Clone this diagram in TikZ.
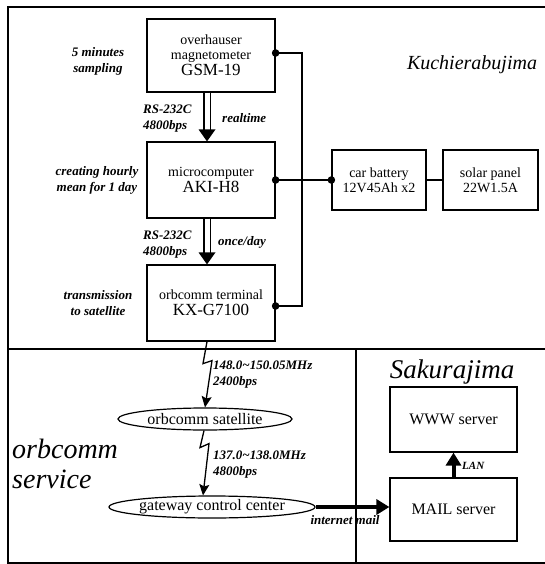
\documentclass[tikz,border=0pt]{standalone}
\usepackage{fontspec}
\setmainfont{Liberation Serif}
\usetikzlibrary{arrows.meta,shapes.geometric,calc}
\begin{document}
\begin{tikzpicture}[x=1pt,y=-1pt,
  box/.style={draw,line width=1.2pt,align=center,inner sep=0pt,font=\fontsize{14}{15}\selectfont},
  oval/.style={draw,ellipse,line width=1.2pt,inner sep=0pt,font=\fontsize{16}{18}\selectfont},
  lbl/.style={font=\bfseries\itshape\fontsize{13}{16}\selectfont,inner sep=0pt},
  big/.style={font=\itshape\fontsize{28}{30}\selectfont,inner sep=0pt},
  wire/.style={line width=1.3pt},
  dot/.style={fill=black},
  zz/.style={line width=1.3pt,-{Stealth[length=11pt,width=10pt,inset=2pt]}},
  thickarrow/.style={line width=4pt,-{Triangle[length=13pt,width=15pt]}},
  hollow/.style={line width=1.2pt,double,double distance=5pt}
]
\useasboundingbox (0,0) rectangle (545,564);
% frame
\draw[line width=1.3pt] (545,7) -- (8,7) -- (8,563) -- (545,563);
\draw[line width=1.3pt] (8,349) -- (545,349);
\draw[line width=1.3pt] (356,349) -- (356,564);

% boxes
\node[box,minimum width=128pt,minimum height=73pt] (gsm) at (211,55.5)
  {overhauser\\magnetometer\\[1pt]{\fontsize{17}{18}\selectfont GSM-19}};
\node[box,minimum width=128pt,minimum height=76pt] (aki) at (211,180)
  {microcomputer\\[1pt]{\fontsize{17}{18}\selectfont AKI-H8}};
\node[box,minimum width=128pt,minimum height=76pt] (kx) at (211,303)
  {orbcomm terminal\\[1pt]{\fontsize{17}{18}\selectfont KX-G7100}};
\node[box,minimum width=94pt,minimum height=60pt] (bat) at (379,180)
  {car battery\\12V45Ah x2};
\node[box,minimum width=95pt,minimum height=60pt] (sol) at (490.5,180)
  {solar panel\\22W1.5A};
\node[box,minimum width=127pt,minimum height=65pt,font=\fontsize{16}{18}\selectfont] (www) at (453.5,419.5) {WWW server};
\node[box,minimum width=127pt,minimum height=63pt,font=\fontsize{16}{18}\selectfont] (mail) at (453.5,509.5) {MAIL server};

\node[oval,minimum width=174pt,minimum height=22pt] (sat) at (205,419) {orbcomm satellite};
\node[oval,minimum width=169pt,minimum height=22pt] (gw) at (212,507) {gateway control center};

% titles
\node[font=\itshape\fontsize{20}{22}\selectfont,anchor=base] (kuchi) at (472,70) {Kuchierabujima};
\node[font=\itshape\fontsize{27}{29}\selectfont,anchor=base] (sakura) at (452,378) {Sakurajima};
\node[big,anchor=base west] (orb1) at (12,458) {orbcomm};
\node[big,anchor=base west] (orb2) at (12,488) {service};

% labels
\node[lbl,align=center] (samp) at (98,61) {5 minutes\\sampling};
\node[lbl,align=left,anchor=west] (rs1) at (143,119) {RS-232C\\4800bps};
\node[lbl,anchor=west] (rt) at (222,118) {realtime};
\node[lbl,align=center] (creat) at (97,180) {creating hourly\\mean for 1 day};
\node[lbl,align=left,anchor=west] (rs2) at (143,245) {RS-232C\\4800bps};
\node[lbl,anchor=west] (once) at (218,242) {once/day};
\node[lbl,align=center] (trans) at (98,303) {transmission\\to satellite};
\node[lbl,align=left,anchor=west] (f1) at (213,375) {148.0\textasciitilde150.05MHz\\2400bps};
\node[lbl,align=left,anchor=west] (f2) at (213,465) {137.0\textasciitilde138.0MHz\\4800bps};
\node[lbl] (imail) at (345,520) {internet mail};
\node[lbl,font=\bfseries\itshape\fontsize{11}{12}\selectfont,anchor=west] (lan) at (462,466) {LAN};

% hollow arrows
\coordinate (ax) at (207,0);
\draw[hollow] (gsm.south -| ax) -- ($(aki.north -| ax)+(0,-11)$);
\fill ($(aki.north -| ax)$) -- ++(-8.5,-12) -- ++(17,0) -- cycle;
\draw[hollow] (aki.south -| ax) -- ($(kx.north -| ax)+(0,-11)$);
\fill ($(kx.north -| ax)$) -- ++(-8.5,-12) -- ++(17,0) -- cycle;

% power bus
\coordinate (d1) at ($(gsm.east)+(0,-2.5)$);
\coordinate (d3) at ($(kx.east)+(0,3)$);
\coordinate (bx) at (302,200);
\draw[wire] (d1) -| (bx) |- (d3);
\draw[wire] (aki.east) -- (bat.west);
\draw[wire] (bat.east) -- (sol.west);
\fill[dot] (d1) circle (3.8pt);
\fill[dot] (d3) circle (3.8pt);
\fill[dot] (aki.east) circle (3.8pt);
\fill[dot] (bat.west) circle (3.8pt);

% radio links
\draw[zz] ($(kx.south)+(-4,0)$) -- ++(-4,22) -- ++(9,-3) -- (sat.north);
\draw[zz] ($(sat.south)+(-1,0)$) -- ++(-4,17) -- ++(9,-4) -- ($(gw.north)+(-9,0)$);

% internet mail and LAN
\draw[thickarrow] (gw.east) -- (gw.east -| mail.west);
\draw[thickarrow] (mail.north) -- (www.south);
\end{tikzpicture}
\end{document}
